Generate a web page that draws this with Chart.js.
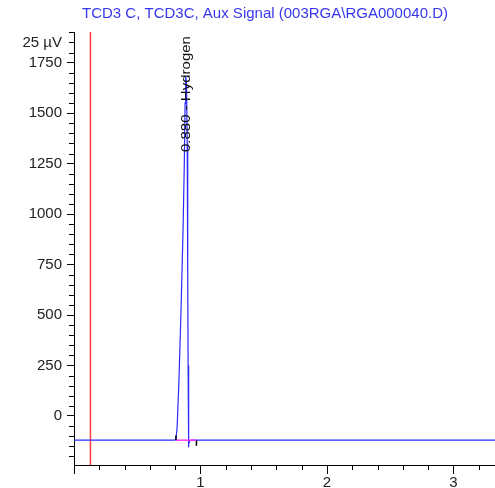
<!DOCTYPE html>
<html>
<head>
<meta charset="utf-8">
<script src="https://cdn.jsdelivr.net/npm/chart.js@4.4.1/dist/chart.umd.min.js"></script>
<style>
html,body{margin:0;padding:0;background:#fff}
#wrap{width:495px;height:488px}
</style>
</head>
<body>
<div id="wrap"><canvas id="c"></canvas></div>
<script>
// signal trace
const times =  [0, 0.79, 0.805, 0.815, 0.83, 0.845, 0.862, 0.872, 0.878, 0.883, 0.889, 0.895, 0.898, 0.900, 0.902, 0.904, 0.906, 0.909, 0.915, 0.93, 3.33];
const signal = [-120, -120, -118, -60, 180, 500, 920, 1250, 1550, 1680, 1650, 1350, 1070, 700, 250, -100, -155, -140, -122, -120, -120];
// integration baseline and its start / end marks
const baseTimes = [0.806, 0.968];
const baseValues = [-120, -120];
const startMark = [[0.806, -120], [0.806, -97]];
const endMark = [[0.968, -122], [0.968, -148]];
// red marker line
const markerTime = 0.13;
// peak annotation
const peakTime = 0.88;
const peakLabel = '0.880 - Hydrogen';
const title = 'TCD3 C, TCD3C, Aux Signal (003RGA\\RGA000040.D)';
// axes
const xMin = 0, xMax = 3.328, xStep = 0.2;
const yMin = -243, yMax = 1902, yStep = 50, yMajor = 250;
const unitTick = 1850, unitLabel = '25 µV';

const pts = (xs, ys) => xs.map((x, i) => ({x, y: ys[i]}));
const near = (v, s) => Math.abs(v / s - Math.round(v / s)) < 1e-6;
const FAM = "'Liberation Sans', Arial, sans-serif";
const font = {family: FAM, size: 15};

const minorTicks = {
  id: 'minorTicks',
  afterDraw(chart) {
    const {ctx, scales: {x, y}, chartArea: a} = chart;
    ctx.save();
    ctx.strokeStyle = '#000'; ctx.lineWidth = 1;
    ctx.beginPath();
    y.ticks.forEach(t => {
      if (near(t.value, yMajor)) return;
      const py = Math.round(y.getPixelForValue(t.value)) + 0.5;
      ctx.moveTo(a.left - 5, py); ctx.lineTo(a.left, py);
    });
    x.ticks.forEach(t => {
      if (near(t.value, 1)) return;
      const px = Math.round(x.getPixelForValue(t.value)) + 0.5;
      ctx.moveTo(px, a.bottom); ctx.lineTo(px, a.bottom + 5);
    });
    ctx.stroke();
    ctx.restore();
  }
};

const texts = {
  id: 'texts',
  afterDraw(chart) {
    const {ctx, scales: {x}} = chart;
    ctx.save();
    ctx.font = '15px ' + FAM;
    ctx.fillStyle = '#3636f0';
    ctx.textAlign = 'center'; ctx.textBaseline = 'middle';
    ctx.fillText(title, 265, 14);
    ctx.translate(x.getPixelForValue(peakTime) + 5, 152);
    ctx.rotate(-Math.PI / 2);
    ctx.scale(1, 0.85);
    ctx.fillStyle = '#111';
    ctx.textAlign = 'left'; ctx.textBaseline = 'alphabetic';
    ctx.fillText(peakLabel, 0, 0);
    ctx.restore();
  }
};

new Chart(document.getElementById('c'), {
  type: 'scatter',
  data: {
    datasets: [
      {data: startMark.map(p => ({x: p[0], y: p[1]})), showLine: true, borderColor: '#000', borderWidth: 1.5, pointRadius: 0},
      {data: endMark.map(p => ({x: p[0], y: p[1]})), showLine: true, borderColor: '#000', borderWidth: 1.5, pointRadius: 0},
      {data: pts(baseTimes, baseValues), showLine: true, borderColor: '#ff33ff', borderWidth: 1.5, pointRadius: 0},
      {data: pts(times, signal), showLine: true, borderColor: '#2a2aff', borderWidth: 1.2, pointRadius: 0, tension: 0},
      {data: [{x: markerTime, y: yMin}, {x: markerTime, y: yMax}], showLine: true, borderColor: '#ff3b3b', borderWidth: 1.5, pointRadius: 0}
    ]
  },
  options: {
    responsive: true, maintainAspectRatio: false, animation: false,
    layout: {padding: {left: 0, right: 0, top: 32, bottom: 0}},
    plugins: {legend: {display: false}, tooltip: {enabled: false}, title: {display: false}},
    scales: {
      x: {
        type: 'linear', min: xMin, max: xMax,
        afterBuildTicks: s => { s.ticks = []; for (let v = xMin; v <= xMax + 1e-9; v += xStep) s.ticks.push({value: +v.toFixed(4)}); },
        afterFit: s => { s.height = 23; },
        ticks: {font, color: '#222', padding: 0, maxRotation: 0, autoSkip: false,
          callback: v => near(v, 1) && v > 0 ? String(Math.round(v)) : ''},
        grid: {display: true, drawOnChartArea: false, tickLength: 9, tickColor: c => c.tick && near(c.tick.value, 1) ? '#000' : 'rgba(0,0,0,0)'},
        border: {display: true, color: '#000', width: 1}
      },
      y: {
        type: 'linear', min: yMin, max: yMax,
        afterBuildTicks: s => { s.ticks = []; for (let v = -200; v <= yMax; v += yStep) s.ticks.push({value: v}); },
        afterFit: s => { s.width = 74; },
        ticks: {font, color: '#222', padding: 5, autoSkip: false,
          callback: v => v === unitTick ? unitLabel : (near(v, yMajor) ? String(v) : '')},
        grid: {display: true, drawOnChartArea: false, tickLength: 7, tickColor: c => c.tick && near(c.tick.value, yMajor) ? '#000' : 'rgba(0,0,0,0)'},
        border: {display: true, color: '#000', width: 1}
      }
    }
  },
  plugins: [minorTicks, texts]
});
</script>
</body>
</html>
